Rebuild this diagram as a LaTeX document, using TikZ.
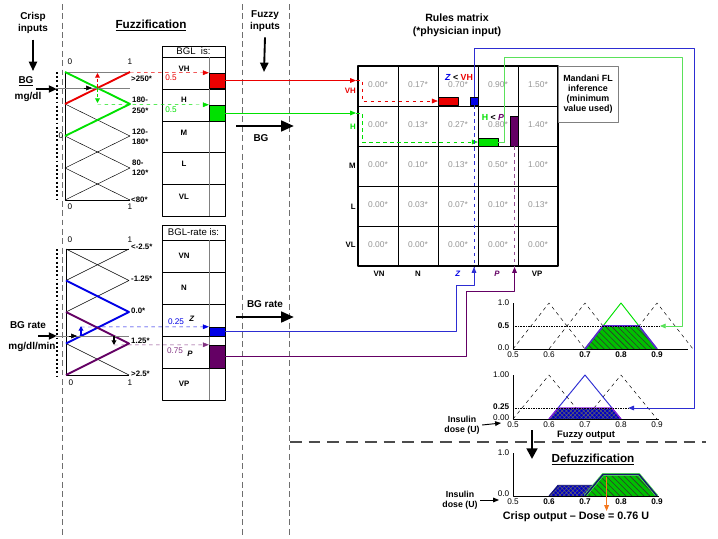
\documentclass[tikz,border=0pt]{standalone}
\usepackage{fontspec}
\setmainfont{Liberation Sans}
\usetikzlibrary{arrows.meta,patterns,patterns.meta,positioning}

\definecolor{vhred}{RGB}{235,0,0}
\definecolor{hgreen}{RGB}{0,225,0}
\definecolor{lgreen}{RGB}{90,225,90}
\definecolor{zblue}{RGB}{0,0,230}
\definecolor{lblue}{RGB}{45,45,210}
\definecolor{ppurple}{RGB}{100,0,100}
\definecolor{celltxt}{RGB}{150,150,150}
\definecolor{sepgrey}{RGB}{110,110,110}
\definecolor{trapline}{RGB}{90,40,210}
\definecolor{doseorange}{RGB}{245,120,30}
\definecolor{navy}{RGB}{20,20,110}

\begin{document}
\begin{tikzpicture}[x=0.3mm, y=-0.3mm, line join=round,
  lbl/.style={font=\bfseries\fontsize{8.5}{10}\selectfont, align=center, inner sep=0pt},
  cls/.style={font=\bfseries\fontsize{6.7}{8}\selectfont, inner sep=0pt},
  rowlbl/.style={font=\bfseries\fontsize{6.7}{8}\selectfont, inner sep=0pt},
  cell/.style={text=celltxt, font=\fontsize{7.2}{8}\selectfont, inner sep=0pt},
  tick/.style={font=\fontsize{7}{8}\selectfont, inner sep=0pt},
  hdr/.style={font=\fontsize{8.2}{9}\selectfont, inner sep=0pt},
  sep/.style={sepgrey, dash pattern=on 5pt off 3pt, line width=0.6pt},
  bigarrow/.style={line width=2.4pt, -{Triangle[length=11pt,width=9pt]}},
  downarrow/.style={line width=1.6pt, -{Triangle[length=8pt,width=7pt]}},
  inarrow/.style={line width=1.4pt, -{Triangle[length=7pt,width=6pt]}},
  thinarrow/.style={-{Triangle[length=5pt,width=4pt]}},
  bar/.style={draw=black, line width=0.4pt, inner sep=0pt},
  memthick/.style={line width=1.6pt},
  greenhatch/.style={pattern={Lines[angle=-45,distance=3.6pt,line width=0.5pt]}, pattern color=black!80},
  bluehatch/.style={pattern={Hatch[angle=45,distance=2.6pt,line width=0.4pt]}, pattern color=black!60}]

\useasboundingbox[fill=white] (0,0) rectangle (718,538);

% separators
\draw[sep] (62,4) -- (62,536);
\draw[sep] (242,4) -- (242,536);
\draw[sep] (289,4) -- (289,536);
\draw[black!70, line width=1pt, dash pattern=on 10pt off 6pt] (290,442) -- (706,442);

% titles
\node[lbl] (crisp) at (33,23) {Crisp\\inputs};
\coordinate (crispend) at (33,71);
\draw[downarrow] ([yshift=-5pt]crisp.south) -- (crispend);
\node[font=\bfseries\fontsize{10}{12}\selectfont, inner sep=0pt] (fuzz) at (151,25) {\underline{Fuzzification}};
\node[lbl] (fuzzyin) at (265,21) {Fuzzy\\inputs};
\coordinate (fuzzyinend) at (264,72);
\draw[downarrow] ([yshift=-5pt]fuzzyin.south) -- (fuzzyinend);
\node[lbl, font=\bfseries\fontsize{9}{11}\selectfont] (rules) at (457,25) {Rules matrix\\(*physician input)};

% crisp inputs
\node[lbl] (bgname) at (26,81) {\underline{BG}};
\node[lbl] (bgunit) at (28,97) {mg/dl};
\coordinate (bgstart) at (36,89);
\coordinate (bgend) at (57,89);
\draw[inarrow] (bgstart) -- (bgend);
\node[lbl] (ratename) at (28,325) {BG rate};
\node[lbl] (rateunit) at (32,347) {mg/dl/min};
\coordinate (ratestart) at (38,336);
\coordinate (rateend) at (57,336);
\draw[inarrow] (ratestart) -- (rateend);
\draw[line width=1.6pt, dotted] (57,72) -- (57,201);
\draw[line width=1.6pt, dotted] (57,249) -- (57,377);

% BG membership functions
\draw[gray, line width=0.8pt] (65,72) -- (130,72);
\draw (65,72) -- (65,200) -- (130,200);
\foreach \y in {104,136}
  \draw (65,\y) -- (130,\y+32) -- (65,\y+64);
\draw (65,168) -- (130,200);
\draw[vhred, memthick] (65,104) -- (130,72);
\draw[hgreen, memthick] (65,72) -- (130,104) -- (65,136);
\draw[gray] (55,88) -- (130,88);
\draw[-{Triangle[length=5pt,width=4pt]}] (84,88) -- (92,88);
\draw[vhred, line width=1pt, densely dashed, -{Triangle[length=4pt,width=4pt]}] (97.5,88) -- (97.5,73);
\draw[hgreen, line width=1pt, densely dashed, -{Triangle[length=4pt,width=4pt]}] (97.5,88) -- (97.5,103);
\node[tick] (bgt0) at (70,62) {0};
\node[tick] (bgt1) at (130,62) {1};
\node[tick] (bgb0) at (70,207) {0};
\node[tick] (bgb1) at (130,207) {1};
\node[tick] (bgmid0) at (61,136) {0};
\node[cls, anchor=west] (bgvh) at (131,79) {>250*};
\node[cls, anchor=west, align=left, font=\bfseries\fontsize{6.7}{9}\selectfont] (bgh) at (132,105.5) {180-\\250*};
\node[cls, anchor=west, align=left, font=\bfseries\fontsize{6.7}{9}\selectfont] (bgm) at (132,137) {120-\\180*};
\node[cls, anchor=west, align=left, font=\bfseries\fontsize{6.7}{9}\selectfont] (bgl) at (132,168) {80-\\120*};
\node[cls, anchor=west] (bgvl) at (131,200) {<80*};

% BG rate membership functions
\draw (66,249) -- (129,249);
\draw (66,249) -- (66,375) -- (129,375);
\draw (129,249) -- (66,280.5);
\draw (66,249) -- (129,280.5) -- (66,312);
\draw (66,343.5) -- (129,375);
\draw[zblue, memthick] (66,280.5) -- (129,312) -- (66,343.5);
\draw[ppurple, memthick] (66,312) -- (129,343.5) -- (66,375);
\draw[gray] (55,336) -- (129,336);
\draw[-{Triangle[length=5pt,width=4pt]}] (69,336) -- (77,336);
\draw[zblue, line width=1pt, -{Triangle[length=4pt,width=4pt]}] (81,336) -- (81,326);
\draw[line width=1pt, -{Triangle[length=4pt,width=4pt]}] (114,336) -- (114,345);
\node[tick] (rt0) at (70,240) {0};
\node[tick] (rt1) at (130,240) {1};
\node[tick] (rb0) at (71,383) {0};
\node[tick] (rb1) at (130,383) {1};
\node[cls, anchor=west] (rvn) at (131,247) {<-2.5*};
\node[cls, anchor=west] (rn) at (131,279) {-1.25*};
\node[cls, anchor=west] (rz) at (131,311) {0.0*};
\node[cls, anchor=west] (rp) at (131,341) {1.25*};
\node[cls, anchor=west] (rvp) at (131,374) {>2.5*};

% BGL table
\draw[line width=0.7pt] (162,46) rectangle (225,216);
\draw[line width=0.7pt] (162,57) -- (225,57);
\foreach \y in {89,121,152,184}
  \draw[line width=0.7pt] (162,\y) -- (225,\y);
\draw[gray, line width=0.8pt] (209,57) -- (209,216);
\node[hdr] (bglhdr) at (193.5,51.5) {BGL\ \ is:};
\foreach \t/\y in {VH/69,H/100,M/133,L/164,VL/197}
  \node[rowlbl] (bgl-\t) at (184,\y) {\t};
\node[bar, fill=vhred, minimum width=4.8mm, minimum height=4.5mm] (redsq) at (217,80.5) {};
\node[bar, fill=hgreen, minimum width=4.8mm, minimum height=4.8mm] (greensq) at (217,113) {};
\node[tick, text=vhred] (vhval) at (171,78) {0.5};
\node[tick, text=hgreen] (hval) at (171,110) {0.5};
\draw[vhred, dashed, thinarrow] (130,72.5) -- (redsq.north west);
\draw[hgreen, dashed, thinarrow] (97.5,104.5) -- (greensq.north west);

% BGL-rate table
\draw[line width=0.7pt] (162,225) rectangle (225,400);
\draw[line width=0.7pt] (162,240) -- (225,240);
\foreach \y in {272,304,336,368}
  \draw[line width=0.7pt] (162,\y) -- (225,\y);
\draw[gray, line width=0.8pt] (209,240) -- (209,400);
\node[hdr] (ratehdr) at (193.5,232.5) {BGL-rate is:};
\foreach \t/\y in {VN/256,N/288,VP/384}
  \node[rowlbl] (rate-\t) at (184,\y) {\t};
\node[rowlbl] (rate-Z) at (192,319) {\textit{Z}};
\node[rowlbl] (rate-P) at (190,354) {\textit{P}};
\node[bar, fill=zblue, minimum width=4.8mm, minimum height=2.7mm] (bluesq) at (217,331.5) {};
\node[bar, fill=ppurple, minimum width=4.8mm, minimum height=6.9mm] (purplesq) at (217,356.5) {};
\node[tick, text=zblue] (zval) at (176,322) {0.25};
\node[tick, text=ppurple!80] (pval) at (175,351) {0.75};
\draw[zblue, dashed, thinarrow] (81,327) -- (bluesq.north west);
\draw[ppurple!80, dashed, thinarrow] (114,345) -- (purplesq.north west);

% fuzzy input arrows
\coordinate (bgarrs) at (236,126);
\coordinate (bgarre) at (294,126);
\draw[bigarrow] (bgarrs) -- (bgarre);
\node[lbl] (bglab) at (261,138) {BG};
\coordinate (ratearrs) at (236,317);
\coordinate (ratearre) at (294,317);
\draw[bigarrow] (ratearrs) -- (ratearre);
\node[lbl] (ratelab) at (265,304) {BG rate};

% rules matrix
\foreach \i in {1,...,4} {
  \draw[line width=0.8pt] (358+40*\i,66) -- (358+40*\i,266);
  \draw[line width=0.8pt] (358,66+40*\i) -- (558,66+40*\i);
}
\draw[line width=1.6pt] (358,66) rectangle (558,266);
\foreach \vals [count=\r] in {{0.00,0.17,0.70,0.90,1.50},{0.00,0.13,0.27,0.80,1.40},{0.00,0.10,0.13,0.50,1.00},{0.00,0.03,0.07,0.10,0.13},{0.00,0.00,0.00,0.00,0.00}}
  \foreach \v [count=\c] in \vals
    \node[cell] (m-\r-\c) at (338+40*\c,45+40*\r) {\v*};
\node[rowlbl, anchor=east, text=vhred] (row-VH) at (356,91) {VH};
\node[rowlbl, anchor=east, text=hgreen] (row-H) at (356,127) {H};
\node[rowlbl, anchor=east] (row-M) at (356,166) {M};
\node[rowlbl, anchor=east] (row-L) at (356,207) {L};
\node[rowlbl, anchor=east] (row-VL) at (356,245) {VL};
\node[rowlbl] (col-VN) at (379,274) {VN};
\node[rowlbl] (col-N) at (418,274) {N};
\node[rowlbl, text=zblue] (col-Z) at (458,274) {\textit{Z}};
\node[rowlbl, text=ppurple] (col-P) at (497,274) {\textit{P}};
\node[rowlbl] (col-VP) at (537,274) {VP};
\node[rowlbl, font=\bfseries\fontsize{7.5}{8}\selectfont] (minvh) at (459,77) {\textcolor{zblue}{\textit{Z}} < \textcolor{vhred}{VH}};
\node[rowlbl, font=\bfseries\fontsize{7.5}{8}\selectfont] (minh) at (493,117) {\textcolor{hgreen}{H} < \textcolor{ppurple}{\textit{P}}};
\node[draw=gray, line width=0.7pt, minimum width=18mm, minimum height=16.8mm, align=center, inner sep=0pt,
  font=\bfseries\fontsize{7.6}{8.6}\selectfont] (mandani) at (588,94) {Mandani FL\\inference\\(minimum\\value used)};

\node[bar, fill=vhred, minimum width=6mm, minimum height=2.4mm] (redbar) at (448,101) {};
\node[bar, fill=hgreen, minimum width=6mm, minimum height=2.4mm] (greenbar) at (488,142) {};
\node[bar, fill=zblue, minimum width=2.4mm, minimum height=2.4mm] (bluebar) at (474,101) {};
\node[bar, fill=ppurple, minimum width=2.4mm, minimum height=9mm] (purplebar) at (514.5,131) {};

\coordinate (vhin) at (356,80.5);
\coordinate (hin) at (356,113);
\coordinate (zin) at (474,267);
\coordinate (pin) at (514.5,267);

% output: BG part
\begin{scope}[shift={(333,349)}, x=10.8cm, y=1.38cm]
  \foreach \c in {0.6,0.7,0.9}
    \draw[dashed] (\c-0.1,0) -- (\c,1) -- (\c+0.1,0);
  \draw[hgreen, line width=0.8pt] (0.7,0) -- (0.8,1) -- (0.9,0);
  \fill[hgreen!85!black] (0.7,0) -- (0.75,0.5) -- (0.85,0.5) -- (0.9,0) -- cycle;
  \fill[greenhatch] (0.7,0) -- (0.75,0.5) -- (0.85,0.5) -- (0.9,0) -- cycle;
  \draw[trapline, line width=1.4pt] (0.7,0) -- (0.75,0.5) -- (0.85,0.5) -- (0.9,0);
  \coordinate (h50) at (0.908,0.5);
  \draw[densely dotted] (0.5,0.5) -- (h50);
  \draw[line width=0.7pt] (0.5,1) -- (0.5,0) -- (0.985,0);
  \node[tick, anchor=east] (o1y1) at (0.49,1) {1.0};
  \node[tick, anchor=east, font=\bfseries\fontsize{7}{8}\selectfont] (o1y5) at (0.49,0.5) {0.5};
  \node[tick, anchor=east] (o1y0) at (0.49,0.03) {0.0};
  \node[tick, anchor=north] (o1x5) at (0.5,-0.05) {0.5};
  \node[tick, anchor=north] (o1x6) at (0.6,-0.05) {0.6};
  \foreach \t in {0.7,0.8,0.9}
    \node[tick, anchor=north, font=\bfseries\fontsize{7}{8}\selectfont] (o1x-\t) at (\t,-0.05) {\t};
\end{scope}

% output: BG rate part
\begin{scope}[shift={(333,419)}, x=10.8cm, y=1.32cm]
  \draw[dashed] (0.5,0) -- (0.6,1) -- (0.7,0);
  \draw[dashed] (0.7,0) -- (0.8,1) -- (0.9,0);
  \draw[lblue, line width=0.8pt] (0.6,0) -- (0.7,1) -- (0.8,0);
  \fill[zblue!85!black] (0.6,0) -- (0.625,0.25) -- (0.775,0.25) -- (0.8,0) -- cycle;
  \fill[bluehatch] (0.6,0) -- (0.625,0.25) -- (0.775,0.25) -- (0.8,0) -- cycle;
  \draw[trapline!70!magenta, line width=1pt] (0.6,0) -- (0.625,0.25) -- (0.775,0.25) -- (0.8,0);
  \coordinate (z25) at (0.82,0.25);
  \draw[densely dotted] (0.5,0.25) -- (z25);
  \draw[line width=0.7pt] (0.5,1) -- (0.5,0) -- (0.905,0);
  \node[tick, anchor=east] (o2y1) at (0.49,1) {1.00};
  \node[tick, anchor=east, font=\bfseries\fontsize{7}{8}\selectfont] (o2y25) at (0.49,0.27) {0.25};
  \node[tick, anchor=east] (o2y0) at (0.49,0.03) {0.00};
  \foreach \t in {0.5,0.6,0.7,0.8,0.9}
    \node[tick, anchor=north] (o2x-\t) at (\t,-0.05) {\t};
\end{scope}
\node[lbl, font=\bfseries\fontsize{7.5}{9}\selectfont] (ins1) at (462,425) {Insulin\\dose (U)};
\coordinate (ins1end) at (501,423);
\draw[thinarrow, line width=0.8pt] ([xshift=2pt]ins1.east) -- (ins1end);
\node[lbl, font=\bfseries\fontsize{8}{9}\selectfont] (fuzzout) at (586,435) {Fuzzy output};

% defuzzification
\coordinate (defs) at (532,430);
\coordinate (defe) at (532,459);
\draw[line width=2.4pt, -{Triangle[length=9pt,width=9pt]}] (defs) -- (defe);
\node[font=\bfseries\fontsize{10}{12}\selectfont, inner sep=0pt] (defuzz) at (593,459) {\underline{Defuzzification}};
\begin{scope}[shift={(333,496)}, x=10.8cm, y=1.29cm]
  \fill[zblue!85!black] (0.6,0) -- (0.625,0.25) -- (0.775,0.25) -- (0.8,0) -- cycle;
  \fill[bluehatch] (0.6,0) -- (0.625,0.25) -- (0.775,0.25) -- (0.8,0) -- cycle;
  \draw[navy, line width=0.8pt] (0.6,0) -- (0.625,0.25) -- (0.775,0.25) -- (0.8,0);
  \fill[hgreen!85!black] (0.7,0) -- (0.75,0.5) -- (0.85,0.5) -- (0.9,0) -- cycle;
  \fill[greenhatch] (0.7,0) -- (0.75,0.5) -- (0.85,0.5) -- (0.9,0) -- cycle;
  \draw[lgreen, line width=2.4pt] (0.7,0) -- (0.75,0.5) -- (0.85,0.5) -- (0.9,0);
  \draw[navy, line width=1.2pt] (0.7,0) -- (0.75,0.5) -- (0.85,0.5) -- (0.9,0);
  \draw[line width=0.7pt] (0.5,1) -- (0.5,0) -- (0.905,0);
  \coordinate (doses) at (0.76,0.45);
  \coordinate (dosee) at (0.76,-0.35);
  \draw[doseorange, line width=0.8pt, thinarrow] (doses) -- (dosee);
  \node[tick, anchor=east] (o3y1) at (0.49,1) {1.0};
  \node[tick, anchor=east] (o3y0) at (0.49,0.05) {0.0};
  \node[tick, anchor=north] (o3x5) at (0.5,-0.05) {0.5};
  \foreach \t in {0.6,0.7,0.8,0.9}
    \node[tick, anchor=north, font=\bfseries\fontsize{7}{8}\selectfont] (o3x-\t) at (\t,-0.05) {\t};
\end{scope}
\node[lbl, font=\bfseries\fontsize{7.5}{9}\selectfont] (ins2) at (460,500) {Insulin\\dose (U)};
\coordinate (ins2end) at (499,500);
\draw[thinarrow, line width=0.8pt] ([xshift=2pt]ins2.east) -- (ins2end);
\node[lbl, font=\bfseries\fontsize{9.2}{11}\selectfont] (crispout) at (576,517) {Crisp output -- Dose = 0.76 U};

% connectors
\draw[vhred, line width=0.8pt, thinarrow] (redsq.east) -- (vhin);
\draw[vhred, dashed, thinarrow] (vhin) -- ++(6,0) |- (redbar.west);
\draw[hgreen, line width=0.8pt, thinarrow] (greensq.east) -- (hin);
\draw[hgreen, dashed, thinarrow] (hin) -- ++(6,0) |- (greenbar.west);
\draw[lblue, line width=0.8pt, thinarrow] (bluesq.east) -| (456,285) -| (zin);
\draw[lblue, dashed] (bluebar.south) -- (zin);
\draw[ppurple, line width=0.8pt, thinarrow] (purplesq.east) -| (466,291) -| (pin);
\draw[ppurple!70, dashed] (purplebar.south) -- (pin);
\draw[lblue, line width=0.8pt, thinarrow] (bluebar.north) |- (694,48) |- (z25);
\draw[lgreen, line width=0.8pt, thinarrow] (greenbar.east) -- ++(6,0) |- (682,57) |- (h50);
\end{tikzpicture}
\end{document}
